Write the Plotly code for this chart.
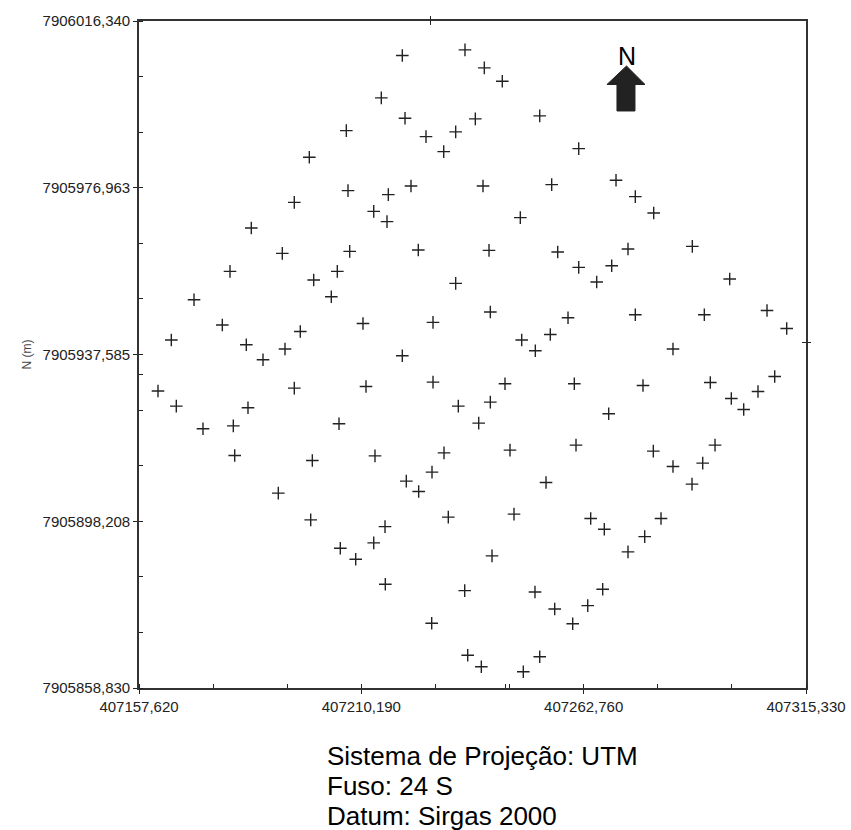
import numpy as np
import plotly.graph_objects as go

# ---- point data (UTM easting / northing, metres) ----
east_a = [407219.88, 407234.70, 407214.91, 407220.52, 407206.64, 407225.48, 407232.50, 407229.67,
          407197.89, 407207.04, 407216.57, 407221.93, 407194.34, 407213.12, 407216.26, 407184.17,
          407207.44, 407223.66, 407191.50, 407179.14, 407204.51, 407198.93, 407232.50, 407170.63,
          407203.09, 407177.32, 407210.58, 407227.14, 407195.76, 407165.26, 407182.99, 407192.14,
          407219.88]
north_a = [7906008.19, 7906009.53, 7905998.19, 7905993.37, 7905990.46, 7905989.04, 7905990.16, 7905985.50,
           7905984.15, 7905976.28, 7905975.34, 7905977.39, 7905973.52, 7905971.39, 7905968.96, 7905967.47,
           7905961.94, 7905962.27, 7905961.46, 7905957.21, 7905957.21, 7905955.18, 7905954.37, 7905950.52,
           7905951.23, 7905944.54, 7905944.92, 7905945.16, 7905943.03, 7905941.00, 7905939.89, 7905938.87,
           7905937.29]

east_b = [407239.27, 407243.52, 407237.14, 407252.37, 407261.59, 407238.96, 407255.20, 407270.41,
          407274.97, 407279.32, 407247.78, 407240.38, 407256.62, 407261.59, 407265.84, 407269.39,
          407273.24, 407288.45, 407297.29, 407240.69, 407259.06, 407274.97, 407291.29, 407306.11,
          407310.77, 407248.11, 407251.33, 407254.87, 407283.88]
north_b = [7906005.28, 7906002.11, 7905993.23, 7905993.94, 7905986.21, 7905977.39, 7905977.70, 7905978.72,
           7905974.86, 7905971.01, 7905969.90, 7905962.17, 7905961.80, 7905958.16, 7905954.71, 7905958.56,
           7905962.50, 7905963.12, 7905955.41, 7905947.62, 7905946.27, 7905946.98, 7905946.98, 7905947.99,
           7905943.74, 7905941.00, 7905938.47, 7905942.32, 7905938.87]

east_c = [407186.94, 407162.11, 407166.44, 407172.75, 407179.92, 407183.39, 407180.25, 407194.34,
          407211.29, 407227.14, 407233.12, 407204.91, 407198.60, 407213.42, 407229.74, 407226.90,
          407220.82, 407223.75, 407190.56, 407198.22, 407230.75, 407215.79, 407213.12, 407205.22,
          407208.86, 407215.86, 407234.63, 407226.83, 407235.34]
north_c = [7905936.34, 7905928.95, 7905925.40, 7905920.04, 7905920.74, 7905925.00, 7905913.73, 7905929.65,
           7905930.03, 7905931.07, 7905925.40, 7905921.22, 7905912.54, 7905913.65, 7905914.36, 7905909.80,
           7905907.68, 7905905.22, 7905904.84, 7905898.53, 7905899.17, 7905896.95, 7905893.09, 7905891.84,
           7905889.24, 7905883.33, 7905881.82, 7905874.12, 7905866.55]

east_d = [407244.16, 407240.69, 407237.94, 407260.55, 407276.79, 407292.70, 407297.67, 407300.60,
          407303.98, 407307.93, 407268.68, 407245.34, 407260.95, 407279.23, 407283.88, 407290.91,
          407293.82, 407288.38, 407253.86, 407246.29, 407264.42, 407267.64, 407281.05, 407277.19,
          407273.24, 407241.09, 407251.25, 407255.91, 407260.17, 407263.72, 407267.26, 407252.37,
          407248.49, 407238.56]
north_d = [7905930.67, 7905926.35, 7905921.38, 7905930.67, 7905930.27, 7905930.98, 7905927.20, 7905924.60,
           7905928.85, 7905932.40, 7905923.58, 7905915.00, 7905916.18, 7905914.77, 7905911.13, 7905911.93,
           7905916.18, 7905906.97, 7905907.35, 7905899.88, 7905898.84, 7905896.33, 7905898.84, 7905894.58,
           7905890.97, 7905890.02, 7905881.51, 7905877.50, 7905874.02, 7905878.28, 7905882.15, 7905866.22,
           7905862.68, 7905863.86]

# ---- axis ticks ----
x_major = [407157.62, 407210.19, 407262.76, 407315.33]
x_major_text = ["407157,620", "407210,190", "407262,760", "407315,330"]
y_major = [7905858.830, 7905898.208, 7905937.585, 7905976.963, 7906016.340]
y_major_text = ["7905858,830", "7905898,208", "7905937,585", "7905976,963", "7906016,340"]
x_extra_bottom = [407244.23]
x_extra_top = [407226.59]
y_extra_left = [7905932.80]
y_extra_right = [7905940.52]

FONT = "Liberation Sans, Arial, sans-serif"
INK = "#222222"


def subdivided(major, labels, n=3):
    vals, txt = [], []
    for i in range(len(major) - 1):
        for k in range(n):
            vals.append(major[i] + (major[i + 1] - major[i]) * k / n)
            txt.append(labels[i] if k == 0 else "")
    vals.append(major[-1])
    txt.append(labels[-1])
    return vals, txt


xt, xtt = subdivided(x_major, x_major_text)
yt, ytt = subdivided(y_major, y_major_text)
xt_all = xt + x_extra_bottom
xtt_all = xtt + [""] * len(x_extra_bottom)
yt_all = yt + y_extra_left
ytt_all = ytt + [""] * len(y_extra_left)

east = east_a + east_b + east_c + east_d
north = north_a + north_b + north_c + north_d

fig = go.Figure()
fig.add_trace(go.Scatter(
    x=east, y=north, mode="markers",
    marker=dict(symbol="cross-thin", size=9, line=dict(width=1.4, color=INK), color=INK),
    showlegend=False, hoverinfo="x+y"))
fig.add_trace(go.Scatter(x=[], y=[], xaxis="x2", yaxis="y2", showlegend=False))

xr = [x_major[0], x_major[-1]]
yr = [y_major[0], y_major[-1]]
tick_common = dict(ticks="outside", ticklen=4, tickwidth=1.3, tickcolor=INK,
                   showgrid=False, zeroline=False, automargin=False)

fig.update_layout(
    width=851, height=830,
    margin=dict(l=139, r=45, t=21, b=142),
    paper_bgcolor="white", plot_bgcolor="white",
    font=dict(family=FONT, color=INK),
    xaxis=dict(range=xr, tickmode="array", tickvals=xt_all, ticktext=xtt_all,
               showline=True, linecolor="#333333", linewidth=1.6, mirror=True,
               tickfont=dict(size=15, color=INK),
               minor=dict(tickmode="array", tickvals=xt_all, ticks="inside", ticklen=4,
                          tickwidth=1.3, tickcolor=INK),
               **tick_common),
    yaxis=dict(range=yr, tickmode="array", tickvals=yt_all, ticktext=ytt_all,
               showline=True, linecolor="#333333", linewidth=1.6, mirror=True,
               tickfont=dict(size=15, color=INK),
               minor=dict(tickmode="array", tickvals=yt_all, ticks="inside", ticklen=4,
                          tickwidth=1.3, tickcolor=INK),
               title=dict(text="N (m)", font=dict(size=12, color="#444444"), standoff=8),
               **tick_common),
    xaxis2=dict(range=xr, overlaying="x", side="top", anchor="y2", showline=False,
                tickmode="array", tickvals=x_extra_top, showticklabels=False,
                minor=dict(tickmode="array", tickvals=x_extra_top, ticks="inside", ticklen=4,
                           tickwidth=1.3, tickcolor=INK),
                **tick_common),
    yaxis2=dict(range=yr, overlaying="y", side="right", anchor="x2", showline=False,
                tickmode="array", tickvals=y_extra_right, showticklabels=False,
                minor=dict(tickmode="array", tickvals=y_extra_right, ticks="inside", ticklen=4,
                           tickwidth=1.3, tickcolor=INK),
                **tick_common),
)

# North arrow (paper coordinates)
fig.add_shape(type="path", xref="paper", yref="paper",
              path="M 0.7309 0.9325 L 0.7586 0.9048 L 0.7436 0.9048 L 0.7436 0.8651 "
                   "L 0.7166 0.8651 L 0.7166 0.9048 L 0.7016 0.9048 Z",
              fillcolor=INK, line=dict(color=INK, width=1))
fig.add_annotation(text="N", xref="paper", yref="paper", x=0.7316, y=0.9475,
                   xanchor="center", yanchor="middle", showarrow=False,
                   font=dict(size=25, color="#000000", family=FONT))

notes = ["Sistema de Projeção: UTM", "Fuso: 24 S", "Datum: Sirgas 2000"]
note_y = [-0.1019, -0.1469, -0.1919]
for t, yy in zip(notes, note_y):
    fig.add_annotation(text=t, xref="paper", yref="paper", x=0.2789, y=yy,
                       xanchor="left", yanchor="middle", showarrow=False,
                       font=dict(size=26, color="#000000", family=FONT))

fig.write_html("out.html")
